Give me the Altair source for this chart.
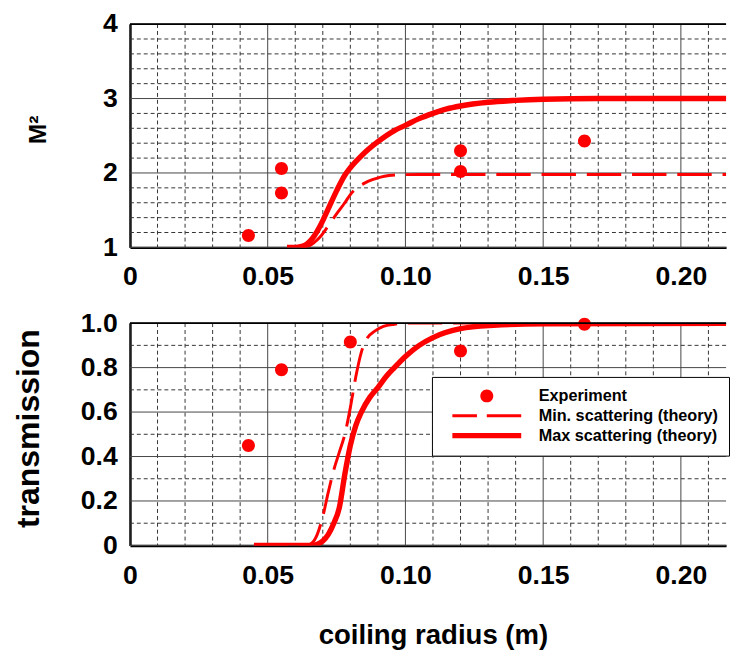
import altair as alt
import pandas as pd

RED = "#ff0000"
FONT = "Liberation Sans"

# ---- axis / grid values ----
x_major = [0, 0.05, 0.10, 0.15, 0.20]
x_minor = [0.01, 0.02, 0.03, 0.04, 0.06, 0.07, 0.08, 0.09, 0.11, 0.12, 0.13, 0.14,
           0.16, 0.17, 0.18, 0.19, 0.21]
m2_major = [1, 2, 3, 4]
m2_minor = [1.2, 1.4, 1.6, 1.8, 2.2, 2.4, 2.6, 2.8, 3.2, 3.4, 3.6, 3.8]
tr_major = [0, 0.2, 0.4, 0.6, 0.8, 1.0]
tr_minor = [0.1, 0.3, 0.5, 0.7, 0.9]

# ---- M^2 panel data ----
exp_m2_x = [0.043, 0.055, 0.055, 0.120, 0.120, 0.165]
exp_m2_y = [1.16, 2.06, 1.73, 2.30, 2.02, 2.43]

m2_max_x = [0.057, 0.060, 0.062, 0.064, 0.066, 0.068, 0.070, 0.072, 0.075, 0.078, 0.080,
            0.084, 0.090, 0.096, 0.100, 0.105, 0.110, 0.115, 0.120, 0.130, 0.140, 0.150,
            0.170, 0.220]
m2_max_y = [1.00, 1.00, 1.01, 1.04, 1.11, 1.22, 1.36, 1.52, 1.76, 1.97, 2.07,
            2.23, 2.42, 2.57, 2.64, 2.73, 2.80, 2.86, 2.90, 2.95, 2.975, 2.99,
            3.0, 3.0]

m2_min_x = [0.062, 0.065, 0.067, 0.069, 0.072, 0.075, 0.078, 0.080, 0.082, 0.085, 0.088,
            0.091, 0.094, 0.098, 0.105, 0.120, 0.220]
m2_min_y = [1.00, 1.02, 1.07, 1.14, 1.29, 1.45, 1.60, 1.71, 1.79, 1.86, 1.91,
            1.945, 1.965, 1.975, 1.98, 1.98, 1.98]

# ---- transmission panel data ----
exp_tr_x = [0.043, 0.055, 0.080, 0.120, 0.165]
exp_tr_y = [0.45, 0.79, 0.915, 0.875, 0.995]

tr_max_x = [0.045, 0.066, 0.068, 0.070, 0.072, 0.074, 0.076, 0.078, 0.080, 0.082, 0.084,
            0.087, 0.090, 0.093, 0.096, 0.100, 0.105, 0.110, 0.120, 0.132, 0.150, 0.220]
tr_max_y = [0, 0, 0.005, 0.02, 0.05, 0.10, 0.17, 0.32, 0.45, 0.54, 0.60,
            0.665, 0.71, 0.76, 0.80, 0.85, 0.90, 0.935, 0.975, 0.99, 0.997, 1.0]

tr_min_x = [0.045, 0.064, 0.066, 0.068, 0.070, 0.072, 0.074, 0.076, 0.078, 0.080, 0.082,
            0.084, 0.086, 0.089, 0.092, 0.096, 0.100, 0.120, 0.220]
tr_min_y = [0, 0, 0.01, 0.05, 0.13, 0.24, 0.34, 0.42, 0.50, 0.62, 0.76,
            0.87, 0.93, 0.965, 0.985, 0.995, 1.0, 1.0, 1.0]

legend_names = ["Experiment", "Min. scattering (theory)", "Max scattering (theory)"]
sym_circle = "M-6.6,0A6.6,6.6,0,1,1,6.6,0A6.6,6.6,0,1,1,-6.6,0Z"
sym_dash = "M-35,-1.5H-10V1.5H-35Z M0,-1.5H35V1.5H0Z"
sym_solid = "M-35,-2.75H35V2.75H-35Z"

W = 606
X_DOMAIN = [0, 0.2164]
xs = alt.Scale(domain=X_DOMAIN, nice=False, zero=False)

MAJOR_COL = "#444444"
MINOR_COL = "#333333"
MINOR_DASH = [4, 3]


def xfmt():
    return "datum.value == 0 ? '0' : format(datum.value, '.2f')"


def panel(ys, y_major, y_minor, y_axis, x_axis, lines, points, height):
    vmin = alt.Chart(pd.DataFrame({"x": x_minor})).mark_rule(
        color=MINOR_COL, strokeWidth=1, strokeDash=MINOR_DASH
    ).encode(x=alt.X("x:Q", scale=xs, axis=x_axis))
    vmaj = alt.Chart(pd.DataFrame({"x": x_major})).mark_rule(
        color=MAJOR_COL, strokeWidth=1
    ).encode(x=alt.X("x:Q", scale=xs, axis=None))
    hmin = alt.Chart(pd.DataFrame({"y": y_minor})).mark_rule(
        color=MINOR_COL, strokeWidth=1, strokeDash=MINOR_DASH
    ).encode(y=alt.Y("y:Q", scale=ys, axis=y_axis))
    hmaj = alt.Chart(pd.DataFrame({"y": y_major})).mark_rule(
        color=MAJOR_COL, strokeWidth=1
    ).encode(y=alt.Y("y:Q", scale=ys, axis=None))
    border = alt.Chart(pd.DataFrame({"y": [y_major[-1]]})).mark_rule(
        color="black", strokeWidth=2
    ).encode(y=alt.Y("y:Q", scale=ys, axis=None))
    return alt.layer(vmin, vmaj, hmin, hmaj, *lines, points, border).resolve_axis(
        x="independent", y="independent"
    ).properties(width=W, height=height)


def line_layer(xv, yv, ys, width, dash=None):
    df = pd.DataFrame({"x": xv, "y": yv})
    kw = dict(color=RED, strokeWidth=width, interpolate="monotone", clip=True)
    if dash:
        kw["strokeDash"] = dash
    return alt.Chart(df).mark_line(**kw).encode(
        x=alt.X("x:Q", scale=xs, axis=None),
        y=alt.Y("y:Q", scale=ys, axis=None),
        order=alt.Order("x:Q"),
    )


# ---------- top panel ----------
ys_top = alt.Scale(domain=[1, 4], nice=False, zero=False)
top_y_axis = alt.Axis(orient="left", values=m2_major, format="d", grid=False, ticks=False,
                      domain=True, domainColor="black", domainWidth=2.5,
                      labelPadding=13, title="M²", titleFontSize=25,
                      titleX=-94, titleY=107, titleAngle=270,
                      titleBaseline="middle", titleAlign="center")
top_x_axis = alt.Axis(orient="bottom", values=x_major, labelExpr=xfmt(), grid=False,
                      ticks=False, domain=True, domainColor="black", domainWidth=2.5,
                      labelPadding=17, labelFlush=False, labelOverlap=False,
                      title=None)
top_points = alt.Chart(pd.DataFrame({"x": exp_m2_x, "y": exp_m2_y})).mark_point(
    filled=True, fill=RED, color=RED, opacity=1, size=4, strokeWidth=0,
    shape=sym_circle
).encode(x=alt.X("x:Q", scale=xs, axis=None), y=alt.Y("y:Q", scale=ys_top, axis=None))

top = panel(
    ys_top, m2_major, m2_minor, top_y_axis, top_x_axis,
    [line_layer(m2_min_x, m2_min_y, ys_top, 3, [35, 11]),
     line_layer(m2_max_x, m2_max_y, ys_top, 5.5)],
    top_points, 227,
)

# ---------- bottom panel ----------
ys_bot = alt.Scale(domain=[0, 1], nice=False, zero=False)
bot_y_axis = alt.Axis(orient="left", values=tr_major,
                      labelExpr="datum.value == 0 ? '0' : format(datum.value, '.1f')",
                      grid=False, ticks=False, domain=True, domainColor="black",
                      domainWidth=2.5, labelPadding=13, title="transmission",
                      titleFontSize=32.5, titleX=-102.5, titleY=106.7, titleAngle=270,
                      titleBaseline="middle", titleAlign="center")
bot_x_axis = alt.Axis(orient="bottom", values=x_major, labelExpr=xfmt(), grid=False,
                      ticks=False, domain=True, domainColor="black", domainWidth=2.5,
                      labelPadding=18, labelFlush=False, labelOverlap=False,
                      title="coiling radius (m)", titleFontSize=28,
                      titleX=308, titleY=99.5, titleBaseline="alphabetic",
                      titleAlign="center")

exp_df = pd.DataFrame({"x": exp_tr_x, "y": exp_tr_y, "series": legend_names[0]})
bot_points = alt.Chart(exp_df).mark_point(
    filled=True, fill=RED, color=RED, opacity=1, size=4, strokeWidth=0
).encode(
    x=alt.X("x:Q", scale=xs, axis=None),
    y=alt.Y("y:Q", scale=ys_bot, axis=None),
    shape=alt.Shape(
        "series:N",
        scale=alt.Scale(domain=legend_names, range=[sym_circle, sym_dash, sym_solid]),
        legend=alt.Legend(
            title=None, orient="none", legendX=307, legendY=54.7, padding=11,
            strokeColor="black", fillColor="white", cornerRadius=0,
            labelFont=FONT, labelFontWeight="bold", labelFontSize=16.5,
            labelColor="black", symbolSize=4, symbolFillColor=RED,
            symbolStrokeWidth=0, symbolOpacity=1, symbolOffset=36.5,
            labelOffset=44.5, rowPadding=3.2, labelLimit=400,
        ),
    ),
)

bottom = panel(
    ys_bot, tr_major, tr_minor, bot_y_axis, bot_x_axis,
    [line_layer(tr_min_x, tr_min_y, ys_bot, 3, [35, 11]),
     line_layer(tr_max_x, tr_max_y, ys_bot, 5.5)],
    bot_points, 226,
)

chart = alt.vconcat(top, bottom, spacing=77, bounds="flush").resolve_scale(
    shape="independent"
).resolve_legend(shape="independent").properties(
    padding={"left": 5, "top": -3, "right": 0, "bottom": 0}
).configure_view(stroke=None).configure_axis(
    labelFont=FONT, labelFontWeight="bold", labelFontSize=27, labelColor="black",
    titleFont=FONT, titleFontWeight="bold", titleColor="black",
)

chart.save("out.html", embed_options={"renderer": "svg", "actions": False})
